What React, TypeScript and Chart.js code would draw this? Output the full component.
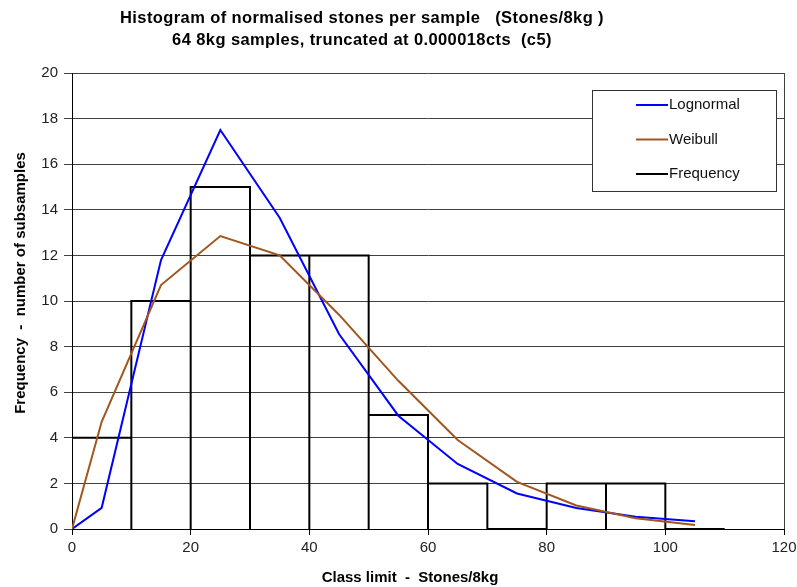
import { useEffect, useRef } from 'react';
import { Chart, registerables } from 'chart.js';

Chart.register(...registerables);

// ---- data ----
const binEdges = [0, 10, 20, 30, 40, 50, 60, 70, 80, 90, 100, 110];
const frequency = [4, 10, 15, 12, 12, 5, 2, 0, 2, 2, 0];
const curveX = [0, 5, 15, 25, 35, 45, 55, 65, 75, 85, 95, 105];
const lognormal = [0, 0.93, 11.8, 17.5, 13.65, 8.55, 4.97, 2.85, 1.56, 0.92, 0.54, 0.34];
const weibull = [0, 4.7, 10.7, 12.85, 12.0, 9.4, 6.5, 3.9, 2.07, 1.03, 0.47, 0.18];
const xTicks = { min: 0, max: 120, step: 20 };
const yTicks = { min: 0, max: 20, step: 2 };

const titleLines = [
  'Histogram of normalised stones per sample   (Stones/8kg )',
  '64 8kg samples, truncated at 0.000018cts  (c5)',
];
const xTitle = 'Class limit  -  Stones/8kg';
const yTitle = 'Frequency  -  number of subsamples';
const legendItems = [
  { label: 'Lognormal', color: '#0000FF' },
  { label: 'Weibull', color: '#A0561E' },
  { label: 'Frequency', color: '#000000' },
];

const FONT = '"Liberation Sans", Arial, sans-serif';

export default function App() {
  const ref = useRef<HTMLCanvasElement>(null);

  useEffect(() => {
    const outline: { x: number; y: number }[] = [];
    frequency.forEach((c, i) => {
      const lo = binEdges[i];
      const hi = binEdges[i + 1];
      outline.push({ x: lo, y: 0 }, { x: lo, y: c }, { x: hi, y: c }, { x: hi, y: 0 });
    });
    const logPts = curveX.map((x, i) => ({ x, y: lognormal[i] }));
    const weiPts = curveX.map((x, i) => ({ x, y: weibull[i] }));

    const decor = {
      id: 'decor',
      beforeDatasetsDraw(chart: any) {
        const { ctx, chartArea: a } = chart;
        ctx.save();
        ctx.strokeStyle = '#404040';
        ctx.lineWidth = 1;
        ctx.beginPath();
        ctx.moveTo(Math.round(a.right) + 0.5, a.top);
        ctx.lineTo(Math.round(a.right) + 0.5, a.bottom);
        ctx.stroke();
        ctx.restore();
      },
      afterDraw(chart: any) {
        const { ctx } = chart;
        ctx.save();
        ctx.fillStyle = '#000';
        ctx.textAlign = 'center';
        ctx.textBaseline = 'middle';
        ctx.font = `bold 16.5px ${FONT}`;
        (ctx as any).letterSpacing = '0.4px';
        ctx.fillText(titleLines[0], 362, 18);
        ctx.fillText(titleLines[1], 362, 40);
        (ctx as any).letterSpacing = '0px';
        ctx.font = `bold 15px ${FONT}`;
        ctx.fillText(xTitle, 410, 578);
        ctx.save();
        ctx.translate(21, 283);
        ctx.rotate(-Math.PI / 2);
        ctx.fillText(yTitle, 0, 0);
        ctx.restore();

        // legend
        const bx = 592, by = 90, bw = 184, bh = 101;
        ctx.fillStyle = '#fff';
        ctx.fillRect(bx, by, bw, bh);
        ctx.strokeStyle = '#333';
        ctx.lineWidth = 1;
        ctx.strokeRect(bx + 0.5, by + 0.5, bw, bh);
        ctx.font = `15px ${FONT}`;
        ctx.textAlign = 'left';
        legendItems.forEach((it, i) => {
          const y = 105 + i * 34.5;
          ctx.strokeStyle = it.color;
          ctx.lineWidth = 2;
          ctx.beginPath();
          ctx.moveTo(636, y);
          ctx.lineTo(668, y);
          ctx.stroke();
          ctx.fillStyle = '#111';
          ctx.fillText(it.label, 669, y);
        });
        ctx.restore();
      },
    };

    const chart = new Chart(ref.current as HTMLCanvasElement, {
      type: 'line',
      data: {
        datasets: [
          { label: 'Weibull', data: weiPts, borderColor: legendItems[1].color, borderWidth: 2, pointRadius: 0, tension: 0, fill: false },
          { label: 'Lognormal', data: logPts, borderColor: legendItems[0].color, borderWidth: 2, pointRadius: 0, tension: 0, fill: false },
          { label: 'Frequency', data: outline, borderColor: legendItems[2].color, borderWidth: 2, pointRadius: 0, tension: 0, fill: false, borderJoinStyle: 'miter' },
        ],
      },
      options: {
        responsive: false,
        animation: false,
        layout: { padding: { top: 73, right: 13, left: 0, bottom: 0 } },
        plugins: { legend: { display: false }, tooltip: { enabled: false }, title: { display: false } },
        scales: {
          x: {
            type: 'linear',
            min: xTicks.min,
            max: xTicks.max,
            ticks: { stepSize: xTicks.step, color: '#222', font: { family: FONT, size: 15 }, padding: 4, maxRotation: 0 },
            grid: { drawOnChartArea: false, drawTicks: true, tickLength: 6, color: '#000' },
            border: { color: '#000', width: 1 },
            afterFit: (s: any) => { s.height = 58; s.paddingLeft = 0; s.paddingRight = 0; },
          },
          y: {
            min: yTicks.min,
            max: yTicks.max,
            ticks: { stepSize: yTicks.step, color: '#222', font: { family: FONT, size: 15 }, padding: 6 },
            grid: { color: '#404040', tickLength: 8 },
            border: { color: '#000', width: 1 },
            afterFit: (s: any) => { s.width = 72; s.paddingTop = 0; s.paddingBottom = 0; },
          },
        },
      } as any,
      plugins: [decor],
    });
    return () => chart.destroy();
  }, []);

  return (
    <div style={{ position: 'fixed', left: 0, top: 0, width: 797, height: 587, background: '#fff' }}>
      <canvas ref={ref} width={797} height={587} style={{ display: 'block' }} />
    </div>
  );
}
